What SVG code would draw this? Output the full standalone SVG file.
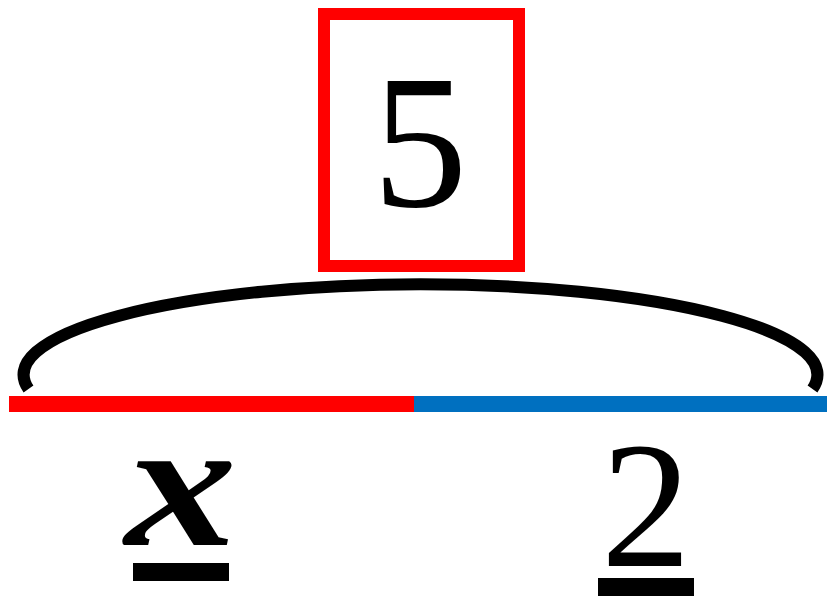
<svg xmlns="http://www.w3.org/2000/svg" width="827" height="597" viewBox="0 0 827 597">
<style>
.num{font-family:"Liberation Serif","Times New Roman",serif;fill:#000;text-anchor:middle}
.ul{fill:#000}
</style>
<rect width="827" height="597" fill="#fff"/>
<g id="connectors">
<path d="M 28.5 389 A 397 90.5 0 1 1 812.5 389" fill="none" stroke="#000" stroke-width="12"/>
<line x1="9" y1="404" x2="414" y2="404" stroke="#FF0000" stroke-width="16"/>
<line x1="414" y1="404" x2="827" y2="404" stroke="#0070C0" stroke-width="16"/>
</g>
<g id="total">
<rect x="324" y="14" width="195" height="252" fill="none" stroke="#FF0000" stroke-width="12"/>
<text class="num" x="420" y="206" font-size="190">5</text>
</g>
<g id="part-x">
<text class="num" x="181" y="545" font-size="182" font-weight="bold" font-style="italic" textLength="112" lengthAdjust="spacingAndGlyphs">x</text>
<rect class="ul" x="133" y="563" width="96" height="18"/>
</g>
<g id="part-2">
<text class="num" x="646" y="566" font-size="180">2</text>
<rect class="ul" x="598" y="578" width="96" height="18"/>
</g>
</svg>
